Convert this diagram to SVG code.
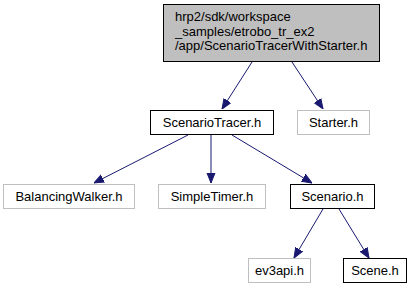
<svg xmlns="http://www.w3.org/2000/svg" width="419" height="291" viewBox="0 0 419 291">
  <style>
    .lbl { font-family: "Liberation Sans", Arial, sans-serif; font-size: 13px; fill: #000; text-anchor: middle; }
    .lbl-l { font-family: "Liberation Sans", Arial, sans-serif; font-size: 13px; fill: #000; text-anchor: start; }
    .box { fill: #fff; stroke: #000; stroke-width: 1; }
    .ext { fill: #fff; stroke: #bfbfbf; stroke-width: 1; }
    .cur { fill: #bfbfbf; stroke: #000; stroke-width: 1; }
    .edge { stroke: #191970; stroke-width: 1; fill: none; }
  </style>
  <defs>
    <marker id="arr" viewBox="0 0 10 10" refX="10" refY="5" markerWidth="10" markerHeight="10" markerUnits="userSpaceOnUse" orient="auto">
      <path d="M0,1 L10,5 L0,9 Z" fill="#191970" stroke="#191970"/>
    </marker>
  </defs>
  <rect width="419" height="291" fill="#fff"/>

  <g id="connectors">
    <path class="edge" d="M252,62 L222,109" marker-end="url(#arr)"/>
    <path class="edge" d="M292,62 L323,109" marker-end="url(#arr)"/>
    <path class="edge" d="M188,135 L94,183" marker-end="url(#arr)"/>
    <path class="edge" d="M211,135 L211,183" marker-end="url(#arr)"/>
    <path class="edge" d="M232,135 L312,183" marker-end="url(#arr)"/>
    <path class="edge" d="M323,209 L294,258" marker-end="url(#arr)"/>
    <path class="edge" d="M339,209 L369,258" marker-end="url(#arr)"/>
  </g>

  <g id="node-main">
    <rect class="cur" x="163.5" y="4.5" width="216" height="57"/>
    <text class="lbl-l" x="175" y="21">hrp2/sdk/workspace</text>
    <text class="lbl-l" x="175" y="35.5">_samples/etrobo_tr_ex2</text>
    <text class="lbl-l" x="175" y="50">/app/ScenarioTracerWithStarter.h</text>
  </g>
  <g id="node-scenariotracer">
    <rect class="box" x="150.5" y="110.5" width="123" height="24"/>
    <text class="lbl" x="212" y="127">ScenarioTracer.h</text>
  </g>
  <g id="node-starter">
    <rect class="ext" x="297.5" y="110.5" width="72" height="24"/>
    <text class="lbl" x="333.5" y="127">Starter.h</text>
  </g>
  <g id="node-balancingwalker">
    <rect class="ext" x="3.5" y="184.5" width="131" height="24"/>
    <text class="lbl" x="69" y="201">BalancingWalker.h</text>
  </g>
  <g id="node-simpletimer">
    <rect class="ext" x="158.5" y="184.5" width="107" height="24"/>
    <text class="lbl" x="212" y="201">SimpleTimer.h</text>
  </g>
  <g id="node-scenario">
    <rect class="box" x="290.5" y="184.5" width="84" height="24"/>
    <text class="lbl" x="332.5" y="201">Scenario.h</text>
  </g>
  <g id="node-ev3api">
    <rect class="ext" x="248.5" y="258.5" width="62" height="24"/>
    <text class="lbl" x="279.5" y="275">ev3api.h</text>
  </g>
  <g id="node-scene">
    <rect class="box" x="343.5" y="258.5" width="63" height="24"/>
    <text class="lbl" x="375" y="275">Scene.h</text>
  </g>
</svg>
